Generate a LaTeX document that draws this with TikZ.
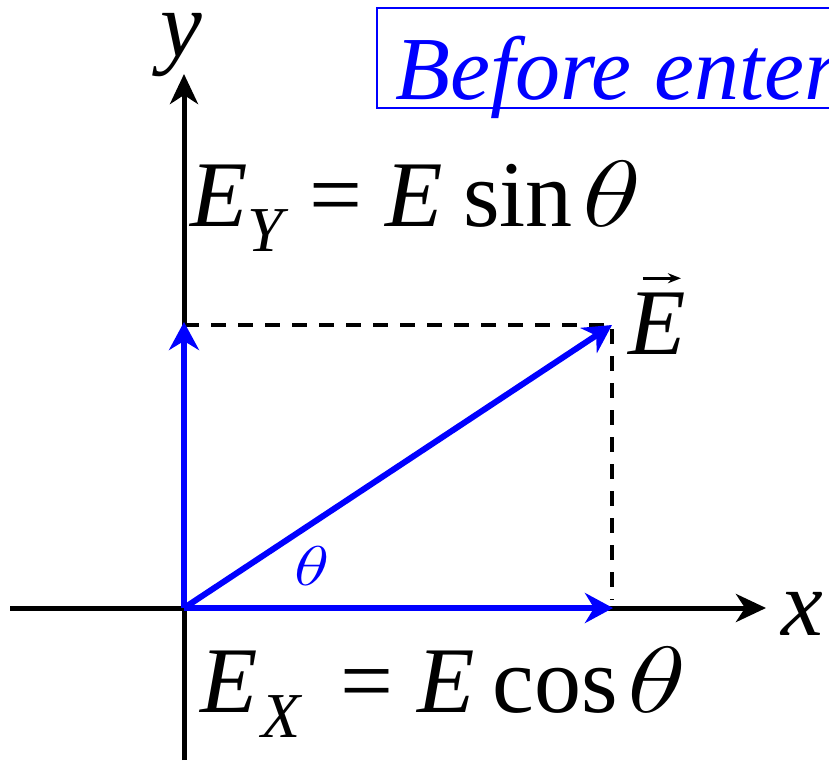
\RequirePackage{fix-cm}
\documentclass[tikz,border=0pt]{standalone}
\usepackage{fontspec}
\usepackage{graphicx}
\setmainfont{Liberation Serif}
\newfontfamily\timesfont{Liberation Serif}
\usetikzlibrary{arrows.meta}

\definecolor{vecblue}{RGB}{0,0,255}
\newcommand\bigfont{\timesfont\fontsize{94}{94}\selectfont}
\newcommand\subfont{\timesfont\fontsize{64}{64}\selectfont}
\newcommand\wtheta{\scalebox{1.3}[1]{$\theta$}}

\tikzset{
  axis/.style={line width=5pt, -{Stealth[length=30pt,width=28pt,inset=9pt]}},
  component/.style={vecblue, line width=6pt, -{Stealth[length=28pt,width=30pt,inset=9pt]}},
  guide/.style={line width=4pt, dash pattern={on 15pt off 12pt}},
  lbl/.style={anchor=base west, inner sep=0pt, font=\bigfont}
}

\begin{document}
\begin{tikzpicture}[x=1pt,y=1pt,yscale=-1,xscale=1]
\clip (0,0) rectangle (829,763);

% points
\coordinate (O) at (184,608);
\coordinate (xs) at (10,608);
\coordinate (xe) at (766,608);
\coordinate (ys) at (184,760);
\coordinate (ye) at (184,74);
\coordinate (Ex) at (613,608);
\coordinate (Ey) at (184,322);
\coordinate (Etip) at (612,325);
\coordinate (Ecorn) at (612,325);
\coordinate (Eyc) at (184,325);
\coordinate (Exc) at (612,600);

% dashed guides
\draw [guide] (Eyc) -- (Ecorn) -- (Exc);

% axes
\draw [axis] (xs) -- (xe);
\draw [axis] (ys) -- (ye);

% vectors
\draw [component] (O) -- (Ex);
\draw [component] (O) -- (Ey);
\draw [component, line join=round] (O) -- (Etip);

% box
\draw [vecblue, line width=2pt] (377,8) rectangle (860,108);
\node [lbl, text=vecblue, font=\timesfont\fontsize{90}{90}\selectfont] (before) at (395,99) {\itshape Before entering};

% Text Node
\node [lbl] (ylab) at (160,56) {\itshape y};
% Text Node
\node [lbl] (xlab) at (781,635) {\itshape x};
% Text Node
\node [lbl] (eylab) at (190,226) {\itshape E\raisebox{-25pt}{\subfont\itshape Y}\hspace{26pt}\upshape= \itshape E\hspace{20pt}\upshape sin\hspace{10pt}\wtheta};
% Text Node
\node [lbl] (exlab) at (200,712) {\itshape E\hspace{4pt}\raisebox{-25pt}{\subfont\itshape X}\hspace{40pt}\upshape= \itshape E\hspace{18pt}\upshape cos\hspace{10pt}\wtheta};
% Text Node
\node [lbl] (evec) at (628,354) {\itshape E};
\draw [line width=2.5pt, -{Stealth[length=13pt,width=10pt]}] ([xshift=-14pt,yshift=-14pt]evec.north) -- ([xshift=24pt,yshift=-14pt]evec.north);
% Text Node
\node [lbl, text=vecblue, font=\timesfont\fontsize{56}{56}\selectfont] (theta) at (294,585) {\wtheta};

\end{tikzpicture}
\end{document}
